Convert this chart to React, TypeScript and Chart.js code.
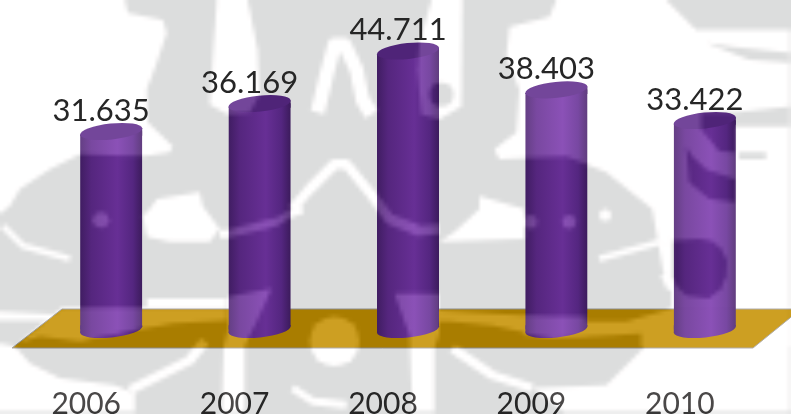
import { useEffect, useRef } from "react";
import { Chart, registerables } from "chart.js";

Chart.register(...registerables);

const years = ["2006", "2007", "2008", "2009", "2010"];
const amounts = [31.635, 36.169, 44.711, 38.403, 33.422];

type Pt = [number, number];

// Emblem backdrop: light areas, thin light strokes, and grey areas cut back out.
const lightAreas: Pt[][] = [
  [[0,0],[125,0],[128,13],[163,20],[167,33],[157,63],[147,90],[148,123],[173,147],[170,153],[143,157],[80,155],[50,170],[20,190],[10,207],[0,215]],
  [[217,0],[248,0],[258,50],[260,95],[250,113],[228,115],[210,105],[213,60]],
  [[463,0],[462,107],[440,120],[422,115],[418,70],[420,43],[432,0]],
  [[557,0],[550,17],[510,27],[507,57],[520,90],[517,133],[495,150],[500,160],[567,157],[607,173],[653,210],[664,273],[672,292],[672,309],[645,348],[642,352],[607,387],[533,390],[565,414],[791,414],[791,30],[720,30],[697,30],[667,0]],
  [[480,197],[525,210],[525,240],[440,243],[455,233],[480,210]],
  [[150,210],[157,200],[200,193],[203,207],[220,230],[210,243],[170,243],[147,238],[143,217]],
  [[62,309],[227,309],[227,322],[173,325],[157,328],[133,332],[80,343],[40,338],[20,344]],
  [[228,298],[272,290],[257,323],[250,337],[245,348],[245,414],[222,414],[224,348],[228,332]],
  [[395,295],[440,295],[440,335],[435,350],[435,414],[413,414],[410,337]],
  [[440,312],[523,317],[587,323],[627,323],[673,310],[791,309],[791,348],[642,348],[642,335],[613,337],[553,340],[493,327],[450,323],[439,323]],
  [[525,318],[587,318],[587,337],[525,337]],
  [[147,300],[227,300],[227,309],[147,309]],
  [[0,345],[15,348],[30,365],[60,380],[115,387],[135,395],[135,414],[0,414]],
  [[0,313],[60,316],[60,322],[0,322]],
];

const lightStrokes: { width: number; path: Pt[] }[] = [
  { width: 14, path: [[318,113],[327,75],[335,45],[345,45],[357,70],[363,100],[372,115]] },
  { width: 10, path: [[293,210],[310,190],[335,165],[347,165],[373,197],[390,220],[420,232],[440,230]] },
  { width: 8, path: [[220,235],[228,235],[277,223],[290,215],[303,210]] },
  { width: 6, path: [[3,227],[23,247],[70,260]] },
  { width: 10, path: [[130,392],[190,362],[205,343]] },
  { width: 9, path: [[453,350],[493,377],[533,390]] },
  { width: 8, path: [[293,390],[313,403],[347,407]] },
  { width: 6, path: [[600,260],[673,240]] },
  { width: 8, path: [[665,275],[672,290]] },
];

const emblemDots: [number, number, number][] = [
  [335, 343, 25],
  [101, 221, 8],
  [531, 223, 7],
  [570, 223, 7],
  [606, 216, 6],
];

const greyAreas: Pt[][] = [
  [[707,43],[750,60],[791,63],[791,53],[733,47]],
  [[702,113],[736,113],[791,107],[791,127],[736,127],[736,153],[720,152],[702,130]],
  [[687,147],[693,157],[707,170],[736,180],[736,203],[710,200],[690,183]],
  [[673,242],[700,240],[713,242],[722,250],[728,262],[727,277],[722,290],[710,300],[687,297],[678,288],[673,277]],
  [[740,153],[767,153],[767,160],[740,160]],
];
const emblemHoles: [number, number, number][] = [[442, 95, 12]];

const tracePoly = (c: CanvasRenderingContext2D, pts: Pt[]) => {
  c.beginPath();
  pts.forEach(([x, y], i) => (i ? c.lineTo(x, y) : c.moveTo(x, y)));
};

// Rendered coarse and scaled up, so the emblem keeps its soft, blocky edges.
const buildEmblem = (w: number, h: number) => {
  const k = 1 / 4;
  const low = document.createElement("canvas");
  low.width = Math.ceil(w * k);
  low.height = Math.ceil(h * k);
  const c = low.getContext("2d")!;
  c.scale(k, k);
  c.fillStyle = c.strokeStyle = "rgb(36,34,34)";
  lightAreas.forEach((p) => { tracePoly(c, p); c.closePath(); c.fill(); });
  c.lineJoin = "round";
  lightStrokes.forEach(({ width, path }) => { c.lineWidth = width; tracePoly(c, path); c.stroke(); });
  emblemDots.forEach(([x, y, r]) => { c.beginPath(); c.arc(x, y, r, 0, 7); c.fill(); });
  c.globalCompositeOperation = "destination-out";
  c.fillStyle = "#000";
  greyAreas.forEach((p) => { tracePoly(c, p); c.closePath(); c.fill(); });
  emblemHoles.forEach(([x, y, r]) => { c.beginPath(); c.arc(x, y, r, 0, 7); c.fill(); });
  return low;
};

const tilt = -0.105;
const valueFont = "31px Lato";
const cylinderStops: [number, string][] = [
  [0, "#401d62"],
  [0.18, "#55267e"],
  [0.6, "#672f95"],
  [0.85, "#542680"],
  [1, "#3c1b5c"],
];

const bodyGradient = (ctx: CanvasRenderingContext2D, x: number, half: number) => {
  const g = ctx.createLinearGradient(x - half, 0, x + half, 0);
  cylinderStops.forEach(([o, col]) => g.addColorStop(o, col));
  return g;
};

const stageAndCylinders = {
  id: "stageAndCylinders",
  beforeDraw(chart: any) {
    const { ctx, width, height } = chart;
    ctx.save();
    ctx.fillStyle = "#dcdddd";
    ctx.fillRect(0, 0, width, height);
    ctx.restore();
  },
  beforeDatasetsDraw(chart: any) {
    const { ctx, chartArea, width } = chart;
    const back = chartArea.bottom - 20.5;
    const front = chartArea.bottom + 18.5;
    ctx.save();
    ctx.beginPath();
    ctx.moveTo(12, front);
    ctx.lineTo(62, back);
    ctx.lineTo(width + 10, back);
    ctx.lineTo(753, front);
    ctx.closePath();
    ctx.fillStyle = "#a97d00";
    ctx.fill();
    ctx.strokeStyle = "#8c8c8c";
    ctx.lineWidth = 1;
    ctx.stroke();
    ctx.restore();
  },
  // Bars are clipped to the sheared outline of the cylinder so no square corner shows past the ends.
  beforeDatasetDraw(chart: any) {
    const { ctx } = chart;
    const bars = chart.getDatasetMeta(0).data;
    ctx.save();
    ctx.beginPath();
    bars.forEach((bar: any) => {
      const half = bar.width / 2;
      const d = half * Math.tan(-tilt);
      ctx.moveTo(bar.x - half, bar.y + d);
      ctx.lineTo(bar.x + half, bar.y - d);
      ctx.lineTo(bar.x + half, bar.base - d);
      ctx.lineTo(bar.x - half, bar.base + d);
      ctx.closePath();
    });
    ctx.clip();
  },
  afterDatasetDraw(chart: any) {
    chart.ctx.restore();
  },
  afterDatasetsDraw(chart: any) {
    const { ctx, width, height } = chart;
    const bars = chart.getDatasetMeta(0).data;
    ctx.save();
    bars.forEach((bar: any) => {
      const half = bar.width / 2;
      const d = half * Math.tan(-tilt);
      ctx.fillStyle = bodyGradient(ctx, bar.x, half);
      ctx.beginPath();
      ctx.moveTo(bar.x - half, bar.y + d);
      ctx.lineTo(bar.x + half, bar.y - d);
      ctx.lineTo(bar.x + half, bar.y + d + 1);
      ctx.lineTo(bar.x - half, bar.y + d + 1);
      ctx.closePath();
      ctx.moveTo(bar.x - half, bar.base - d - 1);
      ctx.lineTo(bar.x + half, bar.base - d - 1);
      ctx.lineTo(bar.x + half, bar.base - d);
      ctx.lineTo(bar.x - half, bar.base + d);
      ctx.closePath();
      ctx.fill();
      ctx.beginPath();
      ctx.ellipse(bar.x, bar.base, half + 0.2, 8, tilt, 0, Math.PI * 2);
      ctx.fill();
      ctx.fillStyle = "#4f2478";
      ctx.beginPath();
      ctx.ellipse(bar.x, bar.y, half + 0.2, 8, tilt, 0, Math.PI * 2);
      ctx.fill();
    });
    ctx.globalCompositeOperation = "lighter";
    ctx.imageSmoothingEnabled = true;
    ctx.drawImage(buildEmblem(width, height), 0, 0, width, height);
    ctx.restore();
  },
  afterDraw(chart: any) {
    const { ctx } = chart;
    const bars = chart.getDatasetMeta(0).data;
    ctx.save();
    ctx.font = valueFont;
    ctx.fillStyle = "#262626";
    ctx.textAlign = "center";
    ctx.textBaseline = "middle";
    bars.forEach((bar: any, i: number) => {
      ctx.fillText(amounts[i].toFixed(3), bar.x - 10, bar.y - 21);
    });
    ctx.restore();
  },
};

export default function App() {
  const ref = useRef<HTMLCanvasElement>(null);
  useEffect(() => {
    const chart = new Chart(ref.current!, {
      type: "bar",
      data: {
        labels: years,
        datasets: [
          {
            data: amounts,
            base: -0.53,
            barThickness: 62,
            backgroundColor: (c: any) => {
              const { chart: ch, dataIndex } = c;
              if (!ch.chartArea || dataIndex === undefined) return "#5a2a88";
              return bodyGradient(ch.ctx, ch.scales.x.getPixelForValue(dataIndex), 31);
            },
          },
        ],
      },
      options: {
        responsive: false,
        animation: false,
        events: [],
        layout: { padding: { left: 37, right: 12, top: 0, bottom: 0 } },
        plugins: { legend: { display: false }, tooltip: { enabled: false } },
        scales: {
          x: {
            z: 1,
            grid: { display: false },
            border: { display: false },
            afterFit: (s: any) => { s.height = 84.5; },
            ticks: {
              labelOffset: -25,
              padding: 49,
              maxRotation: 0,
              color: "#262626",
              font: { family: "Lato", size: 30 },
            },
          },
          y: { display: false, min: -0.53, max: 53 },
        },
      },
      plugins: [stageAndCylinders],
    });
    return () => chart.destroy();
  }, []);
  return (
    <canvas
      ref={ref}
      width={791}
      height={414}
      style={{ position: "fixed", left: 0, top: 0, width: 791, height: 414 }}
    />
  );
}
